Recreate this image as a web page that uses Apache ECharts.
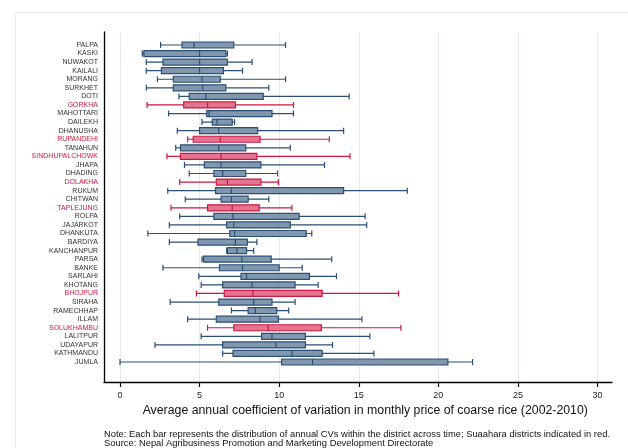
<!DOCTYPE html>
<html>
<head>
<meta charset="utf-8">
<script src="https://cdn.jsdelivr.net/npm/echarts@6/dist/echarts.min.js"></script>
<style>
  html, body { margin: 0; padding: 0; background: #fff; }
  #main { width: 628px; height: 448px; }
</style>
</head>
<body>
<div id="main"></div>
<script>
// districts, top to bottom
const districts = [
  'PALPA', 'KASKI', 'NUWAKOT', 'KAILALI', 'MORANG', 'SURKHET', 'DOTI', 'GORKHA',
  'MAHOTTARI', 'DAILEKH', 'DHANUSHA', 'RUPANDEHI', 'TANAHUN', 'SINDHUPALCHOWK',
  'JHAPA', 'DHADING', 'DOLAKHA', 'RUKUM', 'CHITWAN', 'TAPLEJUNG', 'ROLPA',
  'JAJARKOT', 'DHANKUTA', 'BARDIYA', 'KANCHANPUR', 'PARSA', 'BANKE', 'SARLAHI',
  'KHOTANG', 'BHOJPUR', 'SIRAHA', 'RAMECHHAP', 'ILLAM', 'SOLUKHAMBU', 'LALITPUR',
  'UDAYAPUR', 'KATHMANDU', 'JUMLA'
];

// [low whisker, q1, median, q3, high whisker]
const boxes = [
  [2.55, 3.9, 4.65, 7.15, 10.4],
  [1.4, 1.5, 5.0, 6.65, 6.75],
  [1.65, 2.7, 5.0, 6.75, 8.3],
  [1.65, 2.6, 5.0, 6.5, 7.7],
  [2.35, 3.35, 5.15, 6.3, 10.4],
  [1.65, 3.35, 5.2, 6.65, 9.35],
  [3.7, 4.35, 5.4, 9.0, 14.4],
  [1.7, 4.0, 5.5, 7.25, 10.9],
  [3.05, 5.45, 5.6, 9.55, 10.9],
  [5.15, 5.8, 6.1, 7.05, 7.2],
  [3.6, 5.0, 6.2, 8.65, 14.05],
  [4.25, 4.6, 6.3, 8.8, 13.15],
  [3.5, 3.8, 6.2, 7.9, 10.7],
  [2.95, 3.8, 6.35, 8.6, 14.45],
  [4.05, 5.3, 6.35, 8.85, 12.85],
  [4.35, 5.9, 6.45, 7.9, 9.9],
  [3.75, 6.05, 6.75, 8.85, 9.95],
  [3.0, 6.0, 7.0, 14.05, 18.05],
  [4.1, 6.35, 7.0, 8.05, 9.35],
  [3.2, 5.5, 7.05, 8.75, 10.8],
  [3.75, 5.9, 7.1, 11.25, 15.4],
  [3.1, 6.7, 7.15, 10.7, 15.5],
  [1.75, 6.9, 7.2, 11.7, 12.05],
  [3.1, 4.9, 7.25, 8.0, 8.6],
  [6.7, 6.75, 7.35, 7.95, 8.4],
  [5.15, 5.25, 7.65, 9.5, 13.3],
  [2.7, 6.25, 7.7, 10.0, 11.45],
  [4.95, 7.6, 7.95, 11.9, 13.6],
  [5.1, 6.45, 8.3, 11.0, 12.45],
  [4.8, 6.55, 8.35, 12.7, 17.5],
  [3.15, 6.2, 8.4, 9.55, 11.0],
  [7.0, 8.05, 8.5, 9.85, 10.6],
  [4.25, 6.05, 8.8, 9.95, 15.2],
  [5.5, 7.15, 9.3, 12.65, 17.65],
  [5.1, 8.9, 9.55, 11.65, 15.7],
  [2.2, 6.45, 9.8, 11.65, 13.35],
  [6.45, 7.1, 10.8, 12.7, 15.95],
  [0, 10.15, 12.1, 20.6, 22.15]
];

// Suaahara districts (drawn in red)
const suaahara = ['GORKHA', 'RUPANDEHI', 'SINDHUPALCHOWK', 'DOLAKHA', 'TAPLEJUNG', 'BHOJPUR', 'SOLUKHAMBU'];

const xTicks = [0, 5, 10, 15, 20, 25, 30];

const blue = { color: '#8097ae', borderColor: '#2b4f76' };
const red = { color: '#e27690', borderColor: '#cf1640' };

const boxData = boxes.map(function (v, i) {
  const s = suaahara.indexOf(districts[i]) >= 0 ? red : blue;
  return {
    value: v,
    itemStyle: { color: s.color, borderColor: s.borderColor, borderWidth: 1.2 }
  };
});

const font = 'Liberation Sans, Arial, sans-serif';

const chart = echarts.init(document.getElementById('main'));

const option = {
  animation: false,
  backgroundColor: '#fff',
  textStyle: { fontFamily: font },
  grid: [
    // frame (axis lines)
    { left: 104, right: 16, top: 32, bottom: 66 },
    // ticks, labels, grid lines
    { left: 120, right: 30.5, top: 32, bottom: 66 },
    // boxes
    { left: 120, right: 30.5, top: 40.7, bottom: 81.7 }
  ],
  xAxis: [
    {
      gridIndex: 0, type: 'value', min: 0, max: 1,
      axisLine: { show: true, lineStyle: { color: '#000', width: 1.3 } },
      axisTick: { show: false }, axisLabel: { show: false }, splitLine: { show: false }
    },
    {
      gridIndex: 1, type: 'value', min: xTicks[0], max: xTicks[xTicks.length - 1], interval: 5,
      axisLine: { show: false },
      axisTick: { show: true, length: 5, lineStyle: { color: '#000', width: 1.2 } },
      axisLabel: { color: '#222', fontSize: 9, margin: 9, fontFamily: font },
      splitLine: { show: true, lineStyle: { color: '#e3ebee', width: 1 } },
      name: 'Average annual coefficient of variation in monthly price of coarse rice (2002-2010)',
      nameLocation: 'middle',
      nameGap: 20,
      nameTextStyle: { color: '#111', fontSize: 12.3, fontFamily: font, padding: [0, 0, 0, 13] }
    },
    {
      gridIndex: 2, type: 'value', min: 0, max: 30, show: false
    }
  ],
  yAxis: [
    {
      gridIndex: 0, type: 'value', min: 0, max: 1,
      axisLine: { show: true, lineStyle: { color: '#000', width: 1.3 } },
      axisTick: { show: false }, axisLabel: { show: false }, splitLine: { show: false }
    },
    {
      gridIndex: 1, type: 'value', show: false
    },
    {
      gridIndex: 2, type: 'category', inverse: true, data: districts,
      axisLine: { show: false }, axisTick: { show: false },
      axisLabel: {
        fontSize: 7, margin: 22, interval: 0, fontFamily: font,
        color: function (value) {
          return suaahara.indexOf(value) >= 0 ? '#cf1640' : '#333';
        }
      }
    }
  ],
  series: [
    {
      type: 'boxplot',
      xAxisIndex: 2,
      yAxisIndex: 2,
      boxWidth: [6, 6],
      data: boxData,
      emphasis: { disabled: true }
    }
  ],
  graphic: [
    {
      type: 'rect',
      shape: { x: 15.5, y: 12.5, width: 700, height: 500 },
      style: { fill: 'none', stroke: '#e6eeef', lineWidth: 1 },
      silent: true
    },
    {
      type: 'text',
      left: 104,
      top: 429.5,
      style: {
        text: 'Note: Each bar represents the distribution of annual CVs within the district across time; Suaahara districts indicated in red.\nSource: Nepal Agribusiness Promotion and Marketing Development Directorate',
        font: '9.4px ' + font,
        fill: '#111',
        lineHeight: 9.6
      }
    }
  ]
};

chart.setOption(option);
</script>
</body>
</html>
